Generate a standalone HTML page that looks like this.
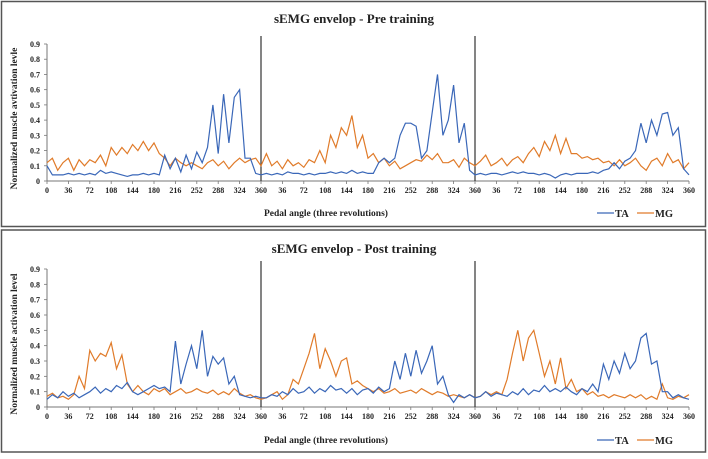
<!DOCTYPE html>
<html><head><meta charset="utf-8"><style>
body{margin:0;background:#fff}
svg text{font-family:"Liberation Serif",serif;font-weight:bold;fill:#222}
</style></head><body>
<svg id="c" width="708" height="454" viewBox="0 0 708 454">
<rect x="1.5" y="1.5" width="704" height="225" fill="none" stroke="#555" stroke-width="1.5"/>
<rect x="1.5" y="230" width="704" height="222" fill="none" stroke="#555" stroke-width="1.5"/>
</svg>
<script>
const angleStep = 9;
const tickLabels = [0,36,72,108,144,180,216,252,288,324,360];
const yTicks = [0,0.1,0.2,0.3,0.4,0.5,0.6,0.7,0.8,0.9];
const preTA = [0.10,0.04,0.04,0.04,0.05,0.04,0.05,0.04,0.05,0.04,0.07,0.05,0.06,0.05,0.04,0.03,0.04,0.04,0.05,0.04,0.05,0.04,0.17,0.08,0.15,0.06,0.17,0.08,0.19,0.12,0.22,0.5,0.18,0.57,0.25,0.55,0.6,0.15,0.15,0.05,0.04,
0.05,0.04,0.05,0.04,0.06,0.05,0.05,0.04,0.05,0.04,0.05,0.05,0.06,0.05,0.06,0.05,0.07,0.05,0.06,0.05,0.05,0.12,0.15,0.12,0.15,0.3,0.38,0.38,0.36,0.15,0.2,0.45,0.7,0.3,0.4,0.63,0.25,0.38,0.07,0.04,
0.05,0.04,0.05,0.05,0.04,0.05,0.06,0.05,0.06,0.05,0.05,0.04,0.05,0.04,0.02,0.04,0.05,0.04,0.05,0.05,0.05,0.06,0.05,0.07,0.08,0.12,0.08,0.13,0.15,0.2,0.38,0.25,0.4,0.3,0.44,0.45,0.3,0.35,0.08,0.04];
const preMG = [0.12,0.15,0.07,0.12,0.15,0.07,0.14,0.1,0.14,0.12,0.17,0.1,0.22,0.17,0.22,0.18,0.24,0.2,0.26,0.2,0.25,0.18,0.15,0.1,0.15,0.12,0.1,0.12,0.1,0.08,0.12,0.14,0.1,0.13,0.08,0.12,0.15,0.12,0.14,0.15,0.1,
0.18,0.1,0.13,0.08,0.14,0.1,0.12,0.09,0.14,0.12,0.2,0.12,0.3,0.22,0.35,0.3,0.43,0.22,0.3,0.15,0.18,0.12,0.15,0.1,0.13,0.08,0.1,0.12,0.14,0.13,0.17,0.14,0.18,0.12,0.12,0.14,0.09,0.15,0.12,0.1,
0.13,0.17,0.1,0.12,0.15,0.1,0.14,0.16,0.12,0.18,0.22,0.16,0.26,0.2,0.3,0.18,0.28,0.18,0.18,0.15,0.16,0.14,0.15,0.12,0.13,0.1,0.14,0.1,0.12,0.15,0.1,0.07,0.13,0.15,0.1,0.18,0.12,0.14,0.08,0.12];
const postTA = [0.05,0.08,0.06,0.1,0.07,0.09,0.06,0.08,0.1,0.13,0.09,0.12,0.1,0.14,0.12,0.16,0.1,0.08,0.1,0.12,0.14,0.12,0.13,0.1,0.43,0.15,0.28,0.4,0.25,0.5,0.2,0.33,0.28,0.32,0.15,0.2,0.08,0.07,0.06,0.07,0.06,
0.06,0.08,0.07,0.1,0.08,0.12,0.09,0.1,0.13,0.09,0.12,0.1,0.14,0.11,0.12,0.09,0.12,0.08,0.11,0.12,0.09,0.13,0.1,0.12,0.3,0.18,0.35,0.2,0.37,0.22,0.3,0.4,0.15,0.2,0.08,0.03,0.08,0.06,0.08,0.06,
0.07,0.1,0.07,0.09,0.08,0.07,0.1,0.08,0.12,0.08,0.11,0.1,0.14,0.1,0.12,0.1,0.13,0.1,0.08,0.12,0.1,0.15,0.1,0.28,0.18,0.3,0.22,0.35,0.25,0.3,0.45,0.48,0.28,0.3,0.1,0.1,0.06,0.08,0.06,0.05];
const postMG = [0.07,0.09,0.06,0.07,0.05,0.08,0.2,0.12,0.37,0.3,0.35,0.33,0.42,0.25,0.34,0.15,0.1,0.14,0.1,0.08,0.12,0.1,0.12,0.08,0.1,0.12,0.09,0.1,0.12,0.1,0.09,0.11,0.08,0.1,0.08,0.12,0.09,0.07,0.08,0.06,0.05,
0.06,0.08,0.1,0.05,0.08,0.18,0.15,0.25,0.35,0.48,0.25,0.38,0.3,0.2,0.3,0.32,0.15,0.17,0.14,0.12,0.1,0.12,0.09,0.1,0.12,0.09,0.1,0.11,0.09,0.12,0.1,0.08,0.1,0.09,0.07,0.08,0.07,0.06,0.08,0.06,
0.07,0.1,0.08,0.1,0.08,0.18,0.35,0.5,0.3,0.45,0.5,0.35,0.2,0.3,0.15,0.32,0.12,0.18,0.1,0.12,0.08,0.1,0.07,0.08,0.06,0.08,0.07,0.06,0.08,0.06,0.08,0.05,0.07,0.05,0.15,0.06,0.05,0.07,0.06,0.08];

const svg = document.getElementById('c');
const NS = 'http://www.w3.org/2000/svg';
const X0 = 47, X1 = 689;
function xs(deg){ return X0 + deg/1080*(X1-X0); }
function mk(tag, attrs, txt){ const e=document.createElementNS(NS,tag); for(const k in attrs) e.setAttribute(k,attrs[k]); if(txt!==undefined) e.textContent=txt; svg.appendChild(e); return e; }

function panel(p, y0, y9, title, ytitle, ta, mg){
  const ys = v => y0 - v/0.9*(y0-y9);
  let t = mk('text',{x:354,y:p.titleY,'text-anchor':'middle','font-size':'13'},title);
  
  
  t = mk('text',{transform:`translate(17,${(y0+y9)/2+6}) rotate(-90)`,'text-anchor':'middle','font-size':'9.5'},ytitle);
  
  
  yTicks.forEach(v=>{
    const l = mk('text',{x:40,y:ys(v)+3,'text-anchor':'end','font-size':'8'},String(v));
    
    
    mk('line',{x1:44,x2:47,y1:ys(v),y2:ys(v),stroke:'#777','stroke-width':0.8});
  });
  let a = mk('line',{x1:X0,x2:X0,y1:y9,y2:y0,stroke:'#777','stroke-width':1});
  
  
  a = mk('line',{x1:X0,x2:X1,y1:y0,y2:y0,stroke:'#777','stroke-width':1});
  
  
  for(let r=0;r<3;r++){
    tickLabels.forEach((d,i)=>{
      if(r>0 && i===0) return;
      const x = xs(r*360+d);
      mk('line',{x1:x,x2:x,y1:y0,y2:y0+3,stroke:'#777','stroke-width':0.8});
      const l = mk('text',{x:x,y:y0+12,'text-anchor':'middle','font-size':'8'},String(d));
      
      
    });
  }
  [360,720].forEach(d=>{
    const l = mk('line',{x1:xs(d),x2:xs(d),y1:p.divTop,y2:y0,stroke:'#333','stroke-width':1.2});
    
    
  });
  const path = arr => arr.map((v,i)=>(i?'L':'M')+xs(i*angleStep).toFixed(1)+','+ys(v).toFixed(1)).join('');
  let s = mk('path',{d:path(mg),fill:'none',stroke:'#e07b2a','stroke-width':1.2});
  
  
  s = mk('path',{d:path(ta),fill:'none',stroke:'#3a67b8','stroke-width':1.2});
  
  
  t = mk('text',{x:264,y:p.labelY,'font-size':'9.5'},'Pedal angle (three revolutions)');
  
  
  const ly = p.labelY-3;
  let g = mk('line',{x1:597,x2:614,y1:ly,y2:ly,stroke:'#3a67b8','stroke-width':1.3});
  
  
  t = mk('text',{x:615,y:p.labelY+1,'font-size':'10.5'},'TA');
  
  
  g = mk('line',{x1:637,x2:654,y1:ly,y2:ly,stroke:'#e07b2a','stroke-width':1.3});
  
  
  t = mk('text',{x:655,y:p.labelY+1,'font-size':'10.5'},'MG');
  
  
}
panel({id:'pre',titleY:23,divTop:36,labelY:216},181,44,'sEMG envelop - Pre training','Normalized muscle avtivation levle',preTA,preMG);
panel({id:'post',titleY:253,divTop:261,labelY:443},407,269,'sEMG envelop - Post training','Normalized muscle activation level',postTA,postMG);
</script>
</body></html>
